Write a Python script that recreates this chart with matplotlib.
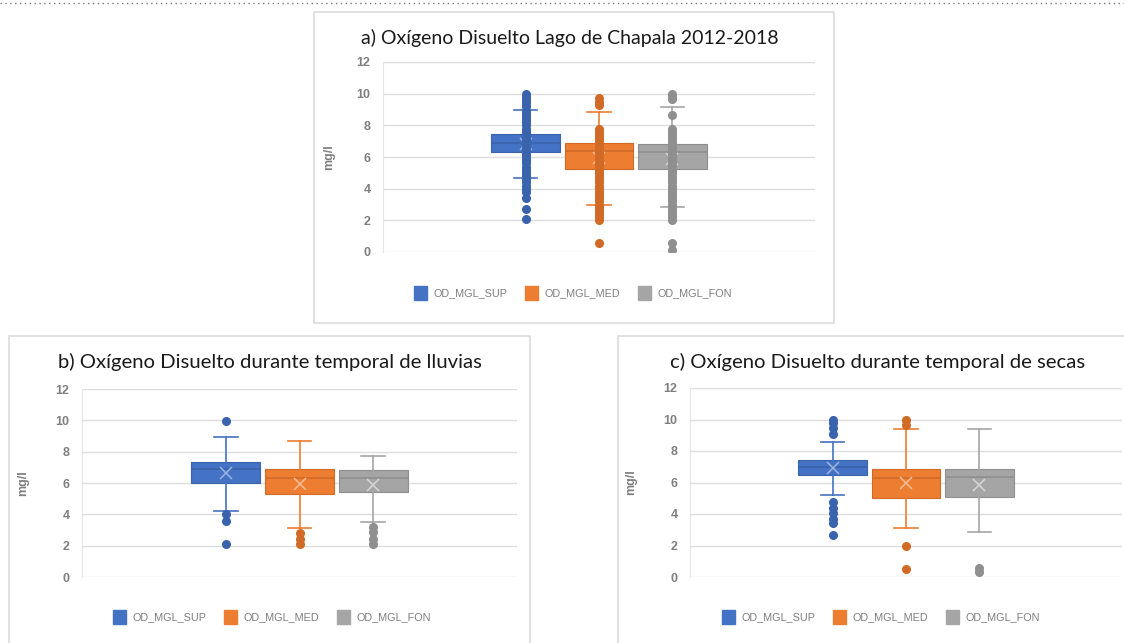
import matplotlib
matplotlib.use("Agg")
import matplotlib.pyplot as plt
from matplotlib.patches import Rectangle, Patch
from matplotlib.lines import Line2D

W, H = 1124, 643

series = ["OD_MGL_SUP", "OD_MGL_MED", "OD_MGL_FON"]
fill_colors = ["#4472C4", "#ED7D31", "#A5A5A5"]
edge_colors = ["#3A63AD", "#D06A25", "#8F8F8F"]
mean_colors = ["#9DB5E0", "#F6BE98", "#D6D6D6"]

titles = [
    "a) Oxígeno Disuelto Lago de Chapala 2012-2018",
    "b) Oxígeno Disuelto durante temporal de lluvias",
    "c) Oxígeno Disuelto durante temporal de secas",
]
y_ticks = [0, 2, 4, 6, 8, 10, 12]
y_label = "mg/l"

# a) 2012-2018: box statistics per level (SUP, MED, FON)
a_q1 = [6.3, 5.25, 5.25]
a_med = [6.9, 6.35, 6.3]
a_q3 = [7.45, 6.9, 6.85]
a_lo = [4.65, 2.95, 2.85]
a_hi = [8.95, 8.85, 9.15]
a_mean = [6.8, 5.95, 5.9]
a_pts_sup = [2.1, 2.7, 3.4, 3.8, 4.0, 4.2, 4.4, 4.6, 4.8, 5.0, 5.2, 5.4, 5.6,
             5.8, 6.0, 6.2, 6.4, 6.6, 6.8, 7.0, 7.2, 7.4, 7.6, 7.8, 8.0, 8.2,
             8.4, 8.6, 8.8, 9.0, 9.2, 9.4, 9.6, 9.8, 10.0]
a_pts_med = [0.55, 2.0, 2.2, 2.4, 2.6, 2.8, 3.0, 3.2, 3.4, 3.6, 3.8, 4.0, 4.2,
             4.4, 4.6, 4.8, 5.0, 5.2, 5.4, 5.6, 5.8, 6.0, 6.2, 6.4, 6.6, 6.8,
             7.0, 7.2, 7.4, 7.6, 7.8, 9.3, 9.5, 9.7]
a_pts_fon = [0.15, 0.55, 2.0, 2.2, 2.4, 2.6, 2.8, 3.0, 3.2, 3.4, 3.6, 3.8, 4.0,
             4.2, 4.4, 4.6, 4.8, 5.0, 5.2, 5.4, 5.6, 5.8, 6.0, 6.2, 6.4, 6.6,
             6.8, 7.0, 7.2, 7.4, 7.6, 7.8, 8.65, 9.65, 9.8, 9.95]

# b) rainy season
b_q1 = [6.0, 5.3, 5.45]
b_med = [6.9, 6.3, 6.3]
b_q3 = [7.35, 6.9, 6.85]
b_lo = [4.2, 3.1, 3.5]
b_hi = [8.95, 8.7, 7.7]
b_mean = [6.65, 5.95, 5.9]
b_pts_sup = [9.95, 4.0, 3.6, 2.1]
b_pts_med = [2.8, 2.45, 2.1]
b_pts_fon = [3.2, 2.9, 2.45, 2.1]

# c) dry season
c_q1 = [6.45, 5.0, 5.05]
c_med = [7.0, 6.3, 6.35]
c_q3 = [7.45, 6.85, 6.85]
c_lo = [5.2, 3.1, 2.85]
c_hi = [8.6, 9.4, 9.4]
c_mean = [6.95, 5.95, 5.85]
c_pts_sup = [10.0, 9.75, 9.45, 9.1, 4.75, 4.35, 4.05, 3.7, 3.4, 2.65]
c_pts_med = [9.95, 9.65, 2.0, 0.5]
c_pts_fon = [0.6, 0.3]

panels = [
    (a_q1, a_med, a_q3, a_lo, a_hi, a_mean, [a_pts_sup, a_pts_med, a_pts_fon]),
    (b_q1, b_med, b_q3, b_lo, b_hi, b_mean, [b_pts_sup, b_pts_med, b_pts_fon]),
    (c_q1, c_med, c_q3, c_lo, c_hi, c_mean, [c_pts_sup, c_pts_med, c_pts_fon]),
]

# layout in pixels
plot_boxes = [(383, 62, 815, 252), (82, 389, 517, 577), (690, 388, 1122, 577)]
title_pos = [(570, 38), (270, 362), (878, 362)]
title_size = [14, 14.55, 14.6]
legend_pos = [(573, 293), (272, 617), (881, 617)]
cards = [(314, 12, 834, 323), (9, 336, 530, 660), (618, 336, 1140, 660)]
ylabel_x = [335, 29, 637]

plt.rcParams["font.family"] = ["Liberation Sans", "DejaVu Sans"]

fig = plt.figure(figsize=(W / 100, H / 100), dpi=100)
fig.patch.set_facecolor("white")


def fx(x):
    return x / W


def fy(y):
    return 1 - y / H


# dotted rule across the top of the page
fig.add_artist(Line2D([0, 1], [fy(3), fy(3)], transform=fig.transFigure,
                      color="#7A7A7A", lw=1.0, ls=(0, (1, 2.5))))

# chart cards
for (x0, y0, x1, y1) in cards:
    fig.add_artist(Rectangle((fx(x0), fy(y1)), fx(x1 - x0), (y1 - y0) / H,
                             transform=fig.transFigure, fill=False,
                             edgecolor="#DCDCDC", lw=1.2))

positions = [0.33, 0.5, 0.67]
box_w = 0.158

for i, (q1, med, q3, lo, hi, mean, pts) in enumerate(panels):
    x0, y0, x1, y1 = plot_boxes[i]
    ax = fig.add_axes([fx(x0), fy(y1), fx(x1 - x0), (y1 - y0) / H])

    for k in range(3):
        stats = [dict(q1=q1[k], med=med[k], q3=q3[k], whislo=lo[k],
                      whishi=hi[k], mean=mean[k], fliers=pts[k])]
        art = ax.bxp(stats, positions=[positions[k]], widths=box_w,
                     showmeans=True, patch_artist=True, capwidths=0.055,
                     manage_ticks=False,
                     boxprops=dict(facecolor=fill_colors[k], edgecolor=edge_colors[k], lw=0.8),
                     medianprops=dict(color=edge_colors[k], lw=1.2),
                     whiskerprops=dict(color=fill_colors[k], lw=1.2),
                     capprops=dict(color=fill_colors[k], lw=1.2),
                     meanprops=dict(marker="x", markeredgecolor=mean_colors[k],
                                    markersize=8, markeredgewidth=1.1),
                     flierprops=dict(marker="o", markerfacecolor=edge_colors[k],
                                     markeredgecolor=edge_colors[k], markersize=5.5))
        for fl in art["fliers"]:
            fl.set_zorder(4)

    ax.set_xlim(0, 1)
    ax.set_ylim(0, 12)
    ax.set_yticks(y_ticks)
    ax.set_xticks([])
    ax.tick_params(axis="y", length=0, pad=9, labelsize=9,
                   labelcolor="#7F7F7F")
    for lab in ax.get_yticklabels():
        lab.set_fontweight("bold")
    ax.grid(axis="y", color="#DDDDDD", lw=1.0)
    ax.set_axisbelow(True)
    for s in ["top", "right", "bottom"]:
        ax.spines[s].set_visible(False)
    ax.spines["left"].set_color("#E6E6E6")
    ax.set_facecolor("none")

    ax.set_ylabel(y_label, fontsize=9, color="#7F7F7F", fontweight="bold")
    ax.yaxis.set_label_coords(-(x0 - ylabel_x[i]) / (x1 - x0), 0.5)

    tx, ty = title_pos[i]
    fig.text(fx(tx), fy(ty), titles[i], ha="center", va="center",
             fontsize=title_size[i], color="#1A1A1A",
             family=["Lato", "DejaVu Sans"])

    handles = [Patch(facecolor=c, edgecolor=c) for c in fill_colors]
    lx, ly = legend_pos[i]
    fig.legend(handles, series, loc="center", ncol=3,
               bbox_to_anchor=(fx(lx), fy(ly)), frameon=False,
               fontsize=7.8, labelcolor="#7F7F7F", handlelength=1.2,
               handleheight=1.6, handletextpad=0.6, columnspacing=1.6)

fig.savefig("out.png", dpi=100, facecolor="white")
